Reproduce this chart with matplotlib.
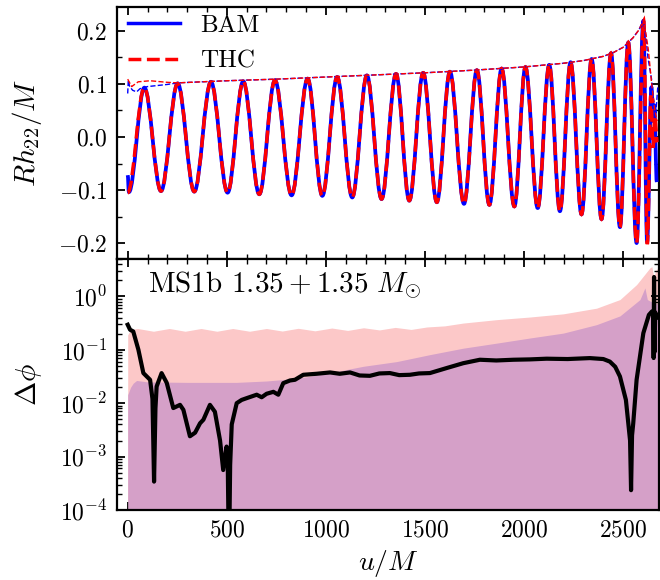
import numpy as np
import matplotlib
matplotlib.use("Agg")
import matplotlib.pyplot as plt
from matplotlib.path import Path
from matplotlib.patches import PathPatch
from matplotlib.lines import Line2D
from matplotlib.ticker import FuncFormatter, MultipleLocator, LogLocator, NullFormatter

plt.rcParams["font.family"] = "serif"
plt.rcParams["font.serif"] = ["cmr10", "DejaVu Serif"]
plt.rcParams["mathtext.fontset"] = "cm"
plt.rcParams["axes.formatter.use_mathtext"] = True
plt.rcParams["axes.unicode_minus"] = False

# ---------------- data ----------------
# waveform extrema (u/M, R h22/M)
bam_t = [0, 6, 84, 168, 252, 336, 420, 504, 583, 664, 743, 827, 908, 982, 1057, 1133,
         1207, 1281, 1354, 1421, 1491, 1560, 1626, 1697, 1762, 1825, 1887, 1951, 2007,
         2069, 2127, 2181, 2235, 2290, 2341, 2391, 2439, 2484, 2526, 2568, 2602, 2621,
         2643, 2651, 2657, 2670]
bam_h = [-0.072, -0.104, 0.093, -0.102, 0.101, -0.103, 0.104, -0.105, 0.105, -0.108,
         0.107, -0.110, 0.110, -0.111, 0.113, -0.114, 0.116, -0.117, 0.119, -0.120,
         0.121, -0.123, 0.123, -0.126, 0.126, -0.128, 0.129, -0.131, 0.132, -0.134,
         0.136, -0.140, 0.141, -0.146, 0.147, -0.155, 0.158, -0.170, 0.178, -0.200,
         0.219, -0.198, 0.094, 0.030, 0.060, -0.085]

thc_t = [0, 84, 168, 252, 336, 420, 504, 583, 664, 743, 827, 908, 982, 1057, 1133,
         1207, 1281, 1354, 1421, 1491, 1560, 1626, 1697, 1762, 1825, 1887, 1951, 2007,
         2069, 2127, 2181, 2235, 2290, 2341, 2391, 2439, 2484, 2526, 2568, 2604, 2622,
         2640, 2651, 2660, 2672]
thc_h = [-0.105, 0.093, -0.102, 0.101, -0.103, 0.104, -0.105, 0.105, -0.108,
         0.107, -0.110, 0.110, -0.111, 0.113, -0.114, 0.116, -0.117, 0.119, -0.120,
         0.121, -0.123, 0.123, -0.126, 0.126, -0.128, 0.129, -0.131, 0.132, -0.134,
         0.136, -0.140, 0.141, -0.146, 0.147, -0.155, 0.158, -0.170, 0.178, -0.200,
         0.219, -0.202, 0.078, -0.020, 0.040, -0.010]

# amplitude envelopes
bam_amp_t = [0, 3, 10, 25, 45, 62, 100, 200, 252, 500, 750, 1000, 1250, 1500, 1750,
             2000, 2200, 2300, 2400, 2450, 2500, 2550, 2580, 2602, 2615, 2625, 2643,
             2650, 2665, 2675]
bam_amp = [0.082, 0.107, 0.095, 0.088, 0.085, 0.091, 0.095, 0.099, 0.102, 0.106,
           0.109, 0.113, 0.117, 0.121, 0.126, 0.132, 0.139, 0.144, 0.152, 0.159,
           0.169, 0.187, 0.202, 0.221, 0.190, 0.150, 0.110, 0.080, 0.045, 0.095]
thc_amp_t = [0, 20, 53, 113, 200, 252, 500, 750, 1000, 1250, 1500, 1750, 2000, 2200,
             2300, 2400, 2450, 2500, 2550, 2580, 2604, 2627, 2644, 2660, 2672]
thc_amp = [0.109, 0.095, 0.104, 0.106, 0.103, 0.102, 0.106, 0.109, 0.113, 0.117,
           0.121, 0.126, 0.132, 0.139, 0.144, 0.152, 0.159, 0.169, 0.187, 0.202,
           0.221, 0.165, 0.100, 0.050, 0.030]

# phase difference
dphi_t = [0, 12, 28, 54, 79, 113, 125, 133, 140, 146, 171, 197, 230, 264, 281, 314,
          340, 365, 382, 415, 440, 466, 482, 499, 505, 511, 517, 525, 550, 575, 600,
          651, 676, 701, 735, 760, 785, 819, 844, 886, 953, 1021, 1070, 1122, 1170,
          1222, 1270, 1323, 1370, 1424, 1470, 1525, 1610, 1693, 1777, 1860, 1946, 2030,
          2114, 2220, 2332, 2400, 2433, 2460, 2484, 2514, 2535, 2540, 2545, 2551, 2568,
          2602, 2630, 2645, 2652, 2654, 2656, 2658, 2662, 2672]
dphi = [0.294, 0.237, 0.22, 0.10, 0.0366, 0.0274, 0.012, 3.4e-4, 0.008, 0.0205,
        0.0365, 0.024, 0.0081, 0.0093, 0.0075, 0.0024, 0.0028, 0.0042, 0.0049, 0.0093,
        0.0069, 0.0020, 5.6e-4, 0.00154, 7e-4, 1e-5, 7e-4, 0.004, 0.010, 0.0115,
        0.0124, 0.0144, 0.0129, 0.015, 0.0163, 0.0144, 0.0237, 0.0266, 0.0274, 0.034,
        0.0355, 0.0376, 0.0355, 0.0376, 0.033, 0.0325, 0.036, 0.0366, 0.0335, 0.034,
        0.036, 0.0366, 0.0455, 0.056, 0.065, 0.063, 0.065, 0.066, 0.068, 0.067,
        0.0698, 0.067, 0.060, 0.048, 0.0316, 0.0115, 0.002, 2.35e-4, 0.0025, 0.0042,
        0.0274, 0.205, 0.45, 0.52, 0.50, 0.07, 2.3, 0.09, 0.5, 0.4]

# error bands (upper edges)
pink_t = [0, 15, 50, 130, 210, 290, 370, 450, 530, 615, 700, 780, 860, 945, 1030,
          1110, 1190, 1270, 1350, 1430, 1510, 1600, 1693, 1862, 2030, 2198, 2366,
          2484, 2568, 2610, 2635, 2645, 2652, 2657, 2668, 2681]
pink_hi = [0.19, 0.24, 0.25, 0.222, 0.25, 0.222, 0.25, 0.222, 0.25, 0.222, 0.25,
           0.224, 0.252, 0.226, 0.255, 0.23, 0.258, 0.235, 0.262, 0.24, 0.267, 0.28,
           0.316, 0.366, 0.41, 0.47, 0.60, 0.87, 1.66, 2.6, 3.4, 3.6, 2.6, 2.5, 3.2,
           3.4]
purple_t = [0, 15, 28, 45, 100, 300, 550, 700, 800, 900, 1021, 1189, 1357, 1525, 1693,
            1862, 2030, 2198, 2366, 2484, 2585, 2610, 2622, 2640, 2681]
purple_hi = [0.0144, 0.02, 0.0237, 0.0266, 0.025, 0.0245, 0.0245, 0.026, 0.028,
             0.031, 0.037, 0.049, 0.06, 0.081, 0.107, 0.133, 0.166, 0.205, 0.295,
             0.43, 0.87, 1.44, 0.87, 0.8, 0.7]

x_ticks = [0, 500, 1000, 1500, 2000, 2500]
h_ticks = [-0.2, -0.1, 0.0, 0.1, 0.2]

# ---------------- drawing ----------------
fig = plt.figure(figsize=(6.6, 5.8), dpi=100)
L, W = 117 / 660, 542 / 660
ax1 = fig.add_axes([L, 1 - 259 / 580, W, 252 / 580])
ax2 = fig.add_axes([L, 1 - 510 / 580, W, 251 / 580])

K = 1 - 2 / np.pi  # handle fraction for half-cosine shaped segments


def wave_patch(t, h, **kw):
    verts = [(t[0], h[0])]
    codes = [Path.MOVETO]
    for i in range(len(t) - 1):
        dt = t[i + 1] - t[i]
        verts += [(t[i] + K * dt, h[i]), (t[i + 1] - K * dt, h[i + 1]), (t[i + 1], h[i + 1])]
        codes += [Path.CURVE4] * 3
    return PathPatch(Path(verts, codes), fill=False, transform=ax1.transData, **kw)


ax1.add_patch(wave_patch(bam_t, bam_h, edgecolor="#0000ff", lw=2.7, capstyle="butt",
                         joinstyle="round", zorder=3))
ax1.add_patch(wave_patch(thc_t, thc_h, edgecolor="#ff0000", lw=2.5, linestyle="--",
                         capstyle="butt", zorder=4))
ax1.plot(bam_amp_t, bam_amp, color="#0000ff", lw=1.0, ls="--", zorder=5)
ax1.plot(thc_amp_t, thc_amp, color="#ff0000", lw=1.0, ls="--", zorder=5)

handles = [Line2D([], [], color="#0000ff", lw=2.5),
           Line2D([], [], color="#ff0000", lw=2.5, ls="--")]
ax1.legend(handles, ["BAM", "THC"], loc="upper left", bbox_to_anchor=(0.02, 0.972),
           frameon=False, fontsize=18, borderpad=0, borderaxespad=0,
           handlelength=2.1, handletextpad=0.8, labelspacing=0.55)

ax1.set_xlim(-54, 2681)
ax1.set_ylim(-0.23, 0.245)
ax1.set_yticks(h_ticks)
ax1.yaxis.set_major_formatter(FuncFormatter(lambda v, p: "$%.1f$" % (0.0 if abs(v) < 1e-9 else v)))
ax1.yaxis.set_minor_locator(MultipleLocator(0.05))
ax1.set_xticks(x_ticks)
ax1.xaxis.set_minor_locator(MultipleLocator(100))
ax1.tick_params(labelbottom=False)
ax1.set_ylabel(r"$Rh_{22}/M$", fontsize=21)

ax2.fill_between(pink_t, 1e-4, pink_hi, color="#fcc8c8", lw=0, zorder=1)
ax2.fill_between(purple_t, 1e-4, purple_hi, color="#d5a0c8", lw=0, zorder=2)
ax2.plot(dphi_t, dphi, color="black", lw=3, zorder=5)
ax2.set_yscale("log")
ax2.set_xlim(-54, 2681)
ax2.set_ylim(1e-4, 5)
ax2.yaxis.set_major_locator(LogLocator(base=10, numticks=10))
ax2.yaxis.set_minor_locator(LogLocator(base=10, subs=np.arange(2, 10), numticks=20))
ax2.yaxis.set_minor_formatter(NullFormatter())
ax2.set_xticks(x_ticks)
ax2.xaxis.set_major_formatter(FuncFormatter(lambda v, p: "$%d$" % int(round(v))))
ax2.xaxis.set_minor_locator(MultipleLocator(100))
ax2.set_ylabel(r"$\Delta\phi$", fontsize=21)
ax2.set_xlabel(r"$u/M$", fontsize=20)
ax2.text(0.057, 0.863, r"MS1b $1.35 + 1.35\ M_{\odot}$", transform=ax2.transAxes,
         fontsize=21, va="baseline", ha="left", zorder=6)

for ax in (ax1, ax2):
    ax.tick_params(which="both", direction="in", top=True, right=True, labelsize=17, pad=7)
    ax.tick_params(which="major", length=6, width=1.3)
    ax.tick_params(which="minor", length=3.5, width=1.0)
    for s in ax.spines.values():
        s.set_linewidth(1.6)
    ax.yaxis.set_label_coords(-0.135, 0.5)
ax2.xaxis.set_label_coords(0.5, -0.15)

fig.savefig("out.png", dpi=100)
